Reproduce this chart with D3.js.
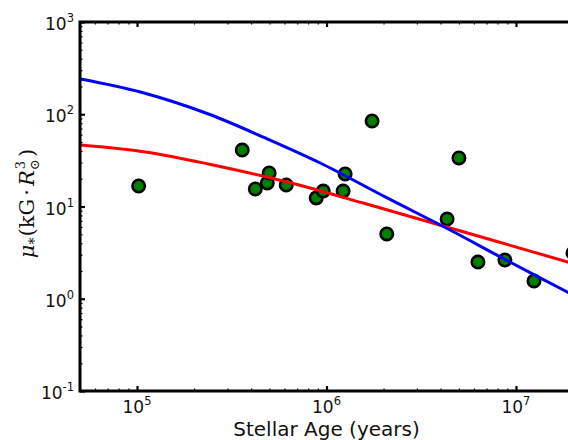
<!DOCTYPE html>
<html>
<head>
<meta charset="utf-8">
<script src="https://cdn.jsdelivr.net/npm/d3@7"></script>
<style>
  html, body { margin: 0; padding: 0; background: #fff; }
  svg { display: block; }
</style>
</head>
<body>
<svg id="chart" width="568" height="440"></svg>
<script>
// ---- data ----
const starAge = [1.02e5, 3.59e5, 4.21e5, 4.87e5, 4.98e5, 6.13e5, 8.83e5, 9.61e5, 1.224e6, 1.254e6, 1.74e6, 2.08e6, 4.33e6, 5.00e6, 6.30e6, 8.74e6, 1.245e7, 2.0e7];
const starMu  = [16.7, 40.9, 15.5, 18.0, 23.1, 17.1, 12.4, 14.7, 14.7, 22.5, 84.5, 5.04, 7.31, 33.6, 2.50, 2.63, 1.56, 3.13];

const blueAge = [5.03e4, 1.042e5, 2.38e5, 4.75e5, 9.27e5, 2.04e6, 4.49e6, 9.29e6, 2.0e7];
const blueFit = [241, 174, 100.7, 55.3, 29.6, 12.7, 5.56, 2.50, 1.10];
const redAge  = [5.03e4, 1.107e5, 2.38e5, 6.21e5, 1.561e6, 4.49e6, 1.88e7, 2.0e7];
const redFit  = [46.4, 39.0, 28.9, 18.4, 10.9, 5.85, 2.50, 2.41];

const xMajor = [1e5, 1e6, 1e7];
const xMajorExp = ["5", "6", "7"];
const yMajor = [0.1, 1, 10, 100, 1000];
const yMajorExp = ["-1", "0", "1", "2", "3"];
const xTitle = "Stellar Age (years)";

// ---- layout ----
const svg = d3.select("#chart");
const L = 80, T = 22, R = 573, B = 391;

const x = d3.scaleLog().domain([5e4, 2e7]).range([L, R]);
const y = d3.scaleLog().domain([0.1, 1000]).range([B, T]);

svg.append("defs").append("clipPath").attr("id", "clip")
  .append("rect").attr("x", L).attr("y", T).attr("width", R - L).attr("height", B - T);

// minor ticks
const xMinor = [];
for (let e = 4; e <= 7; e++) for (let m = 2; m <= 9; m++) { const v = m * Math.pow(10, e); if (v > 5e4 * 0.999 && v < 2e7) xMinor.push(v); }
const yMinor = [];
for (let e = -1; e <= 2; e++) for (let m = 2; m <= 9; m++) yMinor.push(m * Math.pow(10, e));

function styleAxis(g) {
  g.select(".domain").remove();
  g.selectAll(".tick line").attr("stroke", "#000");
  g.selectAll(".tick text").remove();
}

// minor ticks (inward)
svg.append("g").attr("transform", `translate(0,${B})`)
  .call(d3.axisBottom(x).tickValues(xMinor).tickSize(-2.5).tickFormat(""))
  .call(styleAxis).selectAll("line").attr("stroke-width", 1.2);
svg.append("g").attr("transform", `translate(0,${T})`)
  .call(d3.axisTop(x).tickValues(xMinor).tickSize(-2.5).tickFormat(""))
  .call(styleAxis).selectAll("line").attr("stroke-width", 1.2);
svg.append("g").attr("transform", `translate(${L},0)`)
  .call(d3.axisLeft(y).tickValues(yMinor).tickSize(-2.5).tickFormat(""))
  .call(styleAxis).selectAll("line").attr("stroke-width", 1.2);

// major ticks (inward)
svg.append("g").attr("transform", `translate(0,${B})`)
  .call(d3.axisBottom(x).tickValues(xMajor).tickSize(-5).tickFormat(""))
  .call(styleAxis).selectAll("line").attr("stroke-width", 2.2);
svg.append("g").attr("transform", `translate(0,${T})`)
  .call(d3.axisTop(x).tickValues(xMajor).tickSize(-5).tickFormat(""))
  .call(styleAxis).selectAll("line").attr("stroke-width", 2.2);
svg.append("g").attr("transform", `translate(${L},0)`)
  .call(d3.axisLeft(y).tickValues(yMajor).tickSize(-5).tickFormat(""))
  .call(styleAxis).selectAll("line").attr("stroke-width", 2.2);

// tick labels
const fontSans = "'DejaVu Sans', sans-serif";
xMajor.forEach((v, i) => {
  const t = svg.append("text")
    .attr("x", x(v)).attr("y", B + 22)
    .attr("text-anchor", "middle")
    .attr("font-family", fontSans).attr("font-size", 17).attr("fill", "#111");
  t.append("tspan").text("10");
  t.append("tspan").attr("dy", -8).attr("font-size", 11.5).text(xMajorExp[i]);
});
yMajor.forEach((v, i) => {
  const t = svg.append("text")
    .attr("x", 74).attr("y", y(v) + 8)
    .attr("text-anchor", "end")
    .attr("font-family", fontSans).attr("font-size", 17).attr("fill", "#111");
  t.append("tspan").text("10");
  t.append("tspan").attr("dy", -8).attr("font-size", 11.5).text(yMajorExp[i]);
});

// points
svg.append("g").selectAll("circle").data(starAge).join("circle")
  .attr("cx", (d) => x(d))
  .attr("cy", (d, i) => y(starMu[i]))
  .attr("r", 6.2)
  .attr("fill", "#008000")
  .attr("stroke", "#000")
  .attr("stroke-width", 2.6);

// fit lines
const lineGen = (ages, vals) => d3.line()
  .x((d, i) => x(ages[i]))
  .y((d) => y(d))
  .curve(d3.curveCatmullRom.alpha(0.5))(vals);

const lines = svg.append("g").attr("clip-path", "url(#clip)");
lines.append("path").attr("d", lineGen(redAge, redFit)).attr("fill", "none")
  .attr("stroke", "#ff0000").attr("stroke-width", 3);
lines.append("path").attr("d", lineGen(blueAge, blueFit)).attr("fill", "none")
  .attr("stroke", "#0000ff").attr("stroke-width", 3);

// spines
svg.append("rect").attr("x", L).attr("y", T).attr("width", R - L).attr("height", B - T)
  .attr("fill", "none").attr("stroke", "#000").attr("stroke-width", 3);

// x title
svg.append("text").attr("x", (L + R) / 2).attr("y", 436)
  .attr("text-anchor", "middle").attr("font-family", fontSans).attr("font-size", 20)
  .attr("fill", "#111").text(xTitle);

// y title (mathtext-like)
const yt = svg.append("text")
  .attr("transform", `translate(34,${(T + B) / 2 - 3}) rotate(-90)`)
  .attr("text-anchor", "middle")
  .attr("font-family", "'DejaVu Serif', serif").attr("font-size", 21).attr("fill", "#111");
yt.append("tspan").attr("font-style", "italic").text("μ");
yt.append("tspan").attr("dy", 5).attr("font-size", 14).text("*");
yt.append("tspan").attr("dx", 1).attr("dy", -5).text("(kG");
yt.append("tspan").attr("dx", 3).text("·");
yt.append("tspan").attr("dx", 3).attr("font-style", "italic").text("R");
yt.append("tspan").attr("dx", 1).attr("dy", -9).attr("font-size", 13).text("3");
yt.append("tspan").attr("dx", -9).attr("dy", 14).attr("font-size", 13).text("⊙");
yt.append("tspan").attr("dx", 2).attr("dy", -5).text(")");
</script>
</body>
</html>
